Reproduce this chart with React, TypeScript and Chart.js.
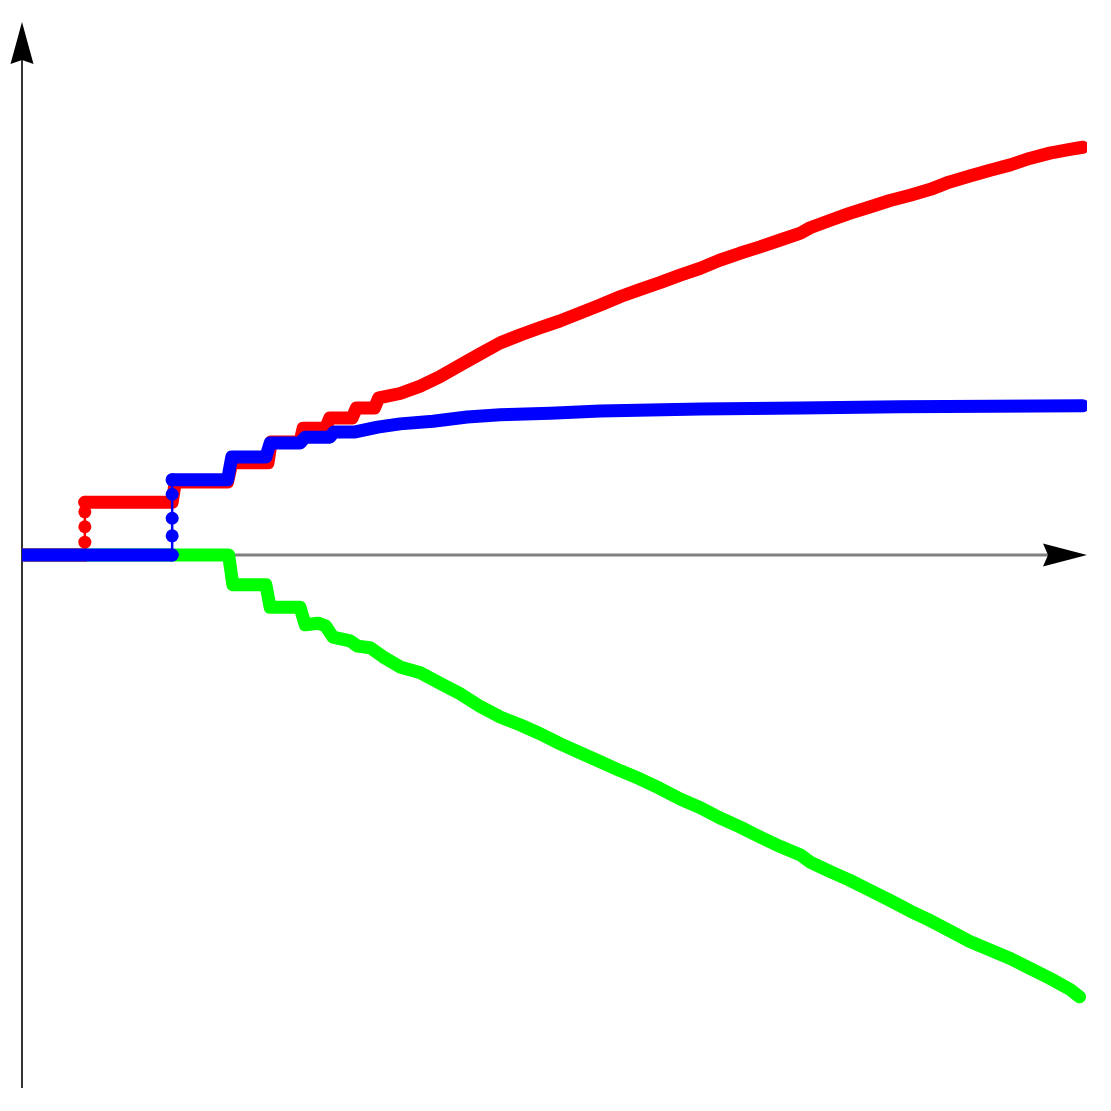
import React, { useEffect, useRef } from "react";
import { Chart, registerables } from "chart.js";

Chart.register(...registerables);

// Series values (arbitrary units; x 0..100, y -100..100). null = break before a sparse jump.
const redX = [0, 5.9, 5.9, 5.9, 13.9, 14.1, 14.4, 19.3, 19.7, 23.1, 23.4, 26.1, 26.4, 28.5, 28.9, 31.0, 31.4, 33.1, 33.5, 35.5, 37.4, 39.2, 41.1, 43.0, 44.9, 46.8, 48.6, 50.5, 52.4, 54.3, 56.2, 58.0, 59.9, 61.8, 63.7, 65.5, 67.4, 69.3, 71.2, 73.1, 74.0, 75.9, 77.7, 79.6, 81.5, 83.4, 85.3, 87.1, 89.0, 90.9, 92.8, 94.6, 96.5, 98.4, 99.6];
const redY = [0, 0, null, 9.9, 9.9, 9.9, 13.7, 13.7, 17.3, 17.3, 21.2, 21.2, 23.8, 23.8, 25.7, 25.7, 27.6, 27.6, 29.5, 30.3, 31.7, 33.4, 35.6, 37.7, 39.8, 41.3, 42.6, 43.9, 45.4, 46.9, 48.5, 49.8, 51.1, 52.5, 53.8, 55.3, 56.6, 57.8, 59.1, 60.4, 61.4, 62.8, 64.1, 65.3, 66.5, 67.5, 68.6, 70.0, 71.1, 72.2, 73.2, 74.4, 75.4, 76.1, 76.5];
const redJumpX = [5.9, 5.9, 5.9, 5.9, 5.9];
const redJumpY = [0, 2.4, 5.3, 8.1, 9.9];

const blueX = [0, 14.1, 14.1, 14.1, 14.3, 19.3, 19.7, 22.9, 23.3, 26.1, 26.6, 28.9, 29.3, 31.3, 33.4, 35.5, 38.6, 41.8, 44.9, 49.6, 54.3, 59.0, 63.7, 73.1, 82.4, 91.0, 99.6];
const blueY = [0, 0, null, 14.1, 14.1, 14.1, 18.4, 18.4, 21.0, 21.0, 22.1, 22.1, 23.1, 23.1, 24.0, 24.6, 25.1, 25.9, 26.3, 26.6, 27.0, 27.2, 27.4, 27.6, 27.8, 27.9, 28.0];
const blueJumpX = [14.1, 14.1, 14.1, 14.1, 14.1];
const blueJumpY = [0, 3.6, 6.9, 11.4, 14.1];

const greenX = [0, 19.4, 19.6, 19.8, 22.9, 23.3, 26.1, 26.6, 27.8, 28.5, 29.2, 30.8, 31.5, 32.7, 33.9, 35.5, 37.4, 39.2, 41.1, 43.0, 44.9, 46.8, 48.6, 50.5, 52.4, 54.3, 56.2, 58.0, 59.9, 61.8, 63.7, 65.5, 67.4, 69.3, 71.2, 73.1, 74.0, 75.9, 77.7, 79.6, 81.5, 83.4, 85.3, 87.1, 89.0, 90.9, 92.8, 94.6, 96.5, 98.4, 99.3];
const greenY = [0, 0, -2.8, -5.6, -5.6, -9.8, -9.8, -13.1, -12.8, -13.3, -15.4, -16.1, -17.1, -17.4, -19.1, -21.0, -22.1, -24.0, -26.0, -28.4, -30.4, -31.9, -33.5, -35.4, -37.1, -38.8, -40.5, -42.0, -43.8, -45.8, -47.4, -49.3, -51.0, -52.9, -54.7, -56.3, -57.6, -59.4, -61.0, -62.9, -64.8, -66.8, -68.6, -70.5, -72.5, -74.1, -75.7, -77.5, -79.4, -81.5, -82.9];

const RED = "#ff0000";
const BLUE = "#0000ff";
const GREEN = "#00ff00";

const zip = (xs: number[], ys: (number | null)[]) => xs.map((x, i) => ({ x, y: ys[i] }));

const thick = (label: string, color: string, xs: number[], ys: (number | null)[]) => ({
  label,
  data: zip(xs, ys),
  borderColor: color,
  backgroundColor: color,
  borderWidth: 13,
  borderCapStyle: "round" as const,
  borderJoinStyle: "round" as const,
  pointRadius: 0,
  spanGaps: false,
  tension: 0,
});

const jump = (label: string, color: string, xs: number[], ys: number[]) => ({
  label,
  data: zip(xs, ys),
  borderColor: color,
  backgroundColor: color,
  borderWidth: 2.5,
  pointRadius: 6.5,
  pointBorderWidth: 0,
  pointBackgroundColor: color,
  tension: 0,
});

const axesPlugin = {
  id: "arrowAxes",
  beforeDatasetsDraw(chart: any) {
    const { ctx, chartArea, scales } = chart;
    const ox = scales.x.getPixelForValue(0);
    const oy = scales.y.getPixelForValue(0);
    ctx.save();
    // y axis
    ctx.strokeStyle = "#000000";
    ctx.lineWidth = 1.6;
    ctx.beginPath();
    ctx.moveTo(ox, chartArea.bottom);
    ctx.lineTo(ox, chartArea.top + 38);
    ctx.stroke();
    ctx.fillStyle = "#000000";
    ctx.beginPath();
    ctx.moveTo(ox, chartArea.top);
    ctx.lineTo(ox - 11.5, chartArea.top + 42);
    ctx.lineTo(ox, chartArea.top + 38);
    ctx.lineTo(ox + 11.5, chartArea.top + 42);
    ctx.closePath();
    ctx.fill();
    // x axis
    ctx.strokeStyle = "#808080";
    ctx.lineWidth = 3;
    ctx.beginPath();
    ctx.moveTo(ox, oy);
    ctx.lineTo(chartArea.right - 38, oy);
    ctx.stroke();
    ctx.fillStyle = "#000000";
    ctx.beginPath();
    ctx.moveTo(chartArea.right, oy);
    ctx.lineTo(chartArea.right - 44, oy - 11.5);
    ctx.lineTo(chartArea.right - 39, oy);
    ctx.lineTo(chartArea.right - 44, oy + 11.5);
    ctx.closePath();
    ctx.fill();
    ctx.restore();
  },
};

export default function App() {
  const ref = useRef<HTMLCanvasElement | null>(null);
  useEffect(() => {
    if (!ref.current) return;
    const chart = new Chart(ref.current, {
      type: "line",
      data: {
        datasets: [
          thick("blue", BLUE, blueX, blueY),
          jump("blueJump", BLUE, blueJumpX, blueJumpY),
          thick("red", RED, redX, redY),
          jump("redJump", RED, redJumpX, redJumpY),
          thick("green", GREEN, greenX, greenY),
        ] as any,
      },
      options: {
        animation: false,
        responsive: false,
        devicePixelRatio: 1,
        layout: { padding: { left: 22, right: 24, top: 22, bottom: 23 } },
        scales: {
          x: { type: "linear", min: 0, max: 100, display: false },
          y: { type: "linear", min: -100, max: 100, display: false },
        },
        plugins: { legend: { display: false }, tooltip: { enabled: false } },
        elements: { line: { fill: false } },
      },
      plugins: [axesPlugin],
    });
    return () => chart.destroy();
  }, []);
  return (
    <div style={{ position: "absolute", left: 0, top: 0, width: 1111, height: 1111, background: "#ffffff" }}>
      <canvas ref={ref} width={1111} height={1111} />
    </div>
  );
}
